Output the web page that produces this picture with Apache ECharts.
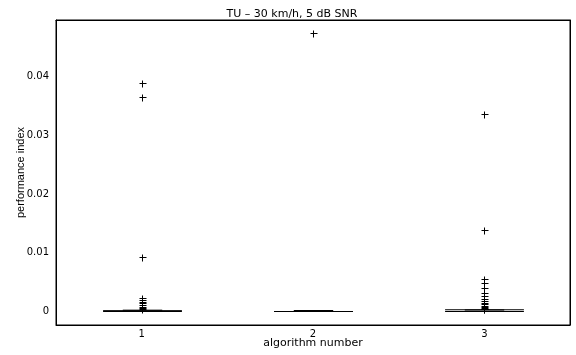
<!DOCTYPE html>
<html>
<head>
<meta charset="utf-8">
<script src="https://cdn.jsdelivr.net/npm/echarts@6/dist/echarts.min.js"></script>
<style>
  html, body { margin: 0; padding: 0; background: #fff; }
  #chart { width: 576px; height: 355px; }
</style>
</head>
<body>
<div id="chart"></div>
<script>
// ─── 資料 ────────────────────────────────────────────────
const categories = ['1', '2', '3']
const yTicks     = [0, 0.01, 0.02, 0.03, 0.04]

// 每組箱形統計：[下鬚, Q1, 中位數, Q3, 上鬚]
const boxAlg1 = [0, 0, 0.00002, 0.00006, 0.00015]
const boxAlg2 = [0, 0, 0, 0, 0]
const boxAlg3 = [0, 0, 0.00003, 0.0001, 0.0003]

// 離群值
const outAlg1 = [0.0389, 0.0365, 0.0093, 0.0023, 0.0020, 0.0017, 0.0014, 0.0011, 0.0008, 0.0006, 0.0004]
const outAlg2 = [0.0474]
const outAlg3 = [0.0337, 0.0139, 0.0056, 0.0049, 0.0040, 0.0031, 0.0026, 0.0022, 0.0018,
                 0.0015, 0.0012, 0.0010, 0.0008, 0.0006, 0.0005, 0.0004]

const boxes    = [boxAlg1, boxAlg2, boxAlg3]
const outliers = [outAlg1, outAlg2, outAlg3]

const boxData = boxes.map((b, i) => [i, ...b])
const outData = []
outliers.forEach((arr, i) => arr.forEach(v => outData.push([i, v])))

// 原圖水平方向文字較寬，用 DejaVu Sans 模擬
const wideFont   = 'DejaVu Sans, Verdana, sans-serif'
const narrowFont = 'Liberation Sans, Arial, Helvetica, sans-serif'
const lineStyle  = { stroke: '#000', lineWidth: 1 }

// 箱形圖（MATLAB 樣式）
const renderBox = (params, api) => {
  const i     = api.value(0)
  const band  = api.size([1, 0])[0]
  const pLo   = api.coord([i, api.value(1)])
  const pQ1   = api.coord([i, api.value(2)])
  const pMed  = api.coord([i, api.value(3)])
  const pQ3   = api.coord([i, api.value(4)])
  const pHi   = api.coord([i, api.value(5)])
  const cx    = Math.round(pLo[0]) + 0.5
  const capW  = band * 0.23
  const boxW  = band * 0.115
  const line  = (x1, y1, x2, y2) => ({
    type: 'line', shape: { x1, y1, x2, y2 }, style: lineStyle,
  })
  return {
    type: 'group',
    children: [
      line(cx - capW, pLo[1], cx + capW, pLo[1]),
      line(cx - capW, pHi[1], cx + capW, pHi[1]),
      line(cx, pLo[1], cx, pQ1[1]),
      line(cx, pQ3[1], cx, pHi[1]),
      line(cx - boxW, pQ1[1], cx + boxW, pQ1[1]),
      line(cx - boxW, pQ3[1] - 1, cx + boxW, pQ3[1] - 1),
      line(cx - boxW, pMed[1], cx + boxW, pMed[1]),
    ],
  }
}

// 離群值 '+' 記號
const renderPlus = (params, api) => {
  const p = api.coord([api.value(0), api.value(1)])
  const x = Math.round(p[0]) + 0.5
  const y = Math.round(p[1]) + 0.5
  const s = 3
  return {
    type: 'group',
    children: [
      { type: 'line', shape: { x1: x - s, y1: y, x2: x + s + 1, y2: y }, style: lineStyle },
      { type: 'line', shape: { x1: x, y1: y - s, x2: x, y2: y + s + 1 }, style: lineStyle },
    ],
  }
}

const axisCommon = {
  axisLine:  { show: true, onZero: false, lineStyle: { color: '#000', width: 1 } },
  splitLine: { show: false },
}

const chart = echarts.init(document.getElementById('chart'))
chart.setOption({
  animation: false,
  backgroundColor: '#fff',
  title: {
    text: 'TU \u2013 30 km/h, 5 dB SNR',
    left: 287,
    top: 4,
    textAlign: 'center',
    textStyle: { fontFamily: wideFont, fontSize: 11, fontWeight: 'normal', color: '#000' },
  },
  grid: {
    left: 56, right: 6, top: 20, bottom: 30,
    outerBoundsMode: 'none',
    show: true, borderColor: '#000', borderWidth: 1,
  },
  xAxis: [
    {
      ...axisCommon,
      type: 'category',
      data: categories,
      name: 'algorithm number',
      nameLocation: 'middle',
      nameGap: 13,
      nameMoveOverlap: false,
      nameTextStyle: { fontFamily: wideFont, fontSize: 11, color: '#000' },
      axisTick:  { inside: true, alignWithLabel: true, length: 4, lineStyle: { color: '#000' } },
      axisLabel: { margin: 4, fontFamily: wideFont, fontSize: 10, color: '#000' },
    },
    {
      ...axisCommon,
      type: 'category',
      data: categories,
      position: 'top',
      axisTick:  { inside: true, alignWithLabel: true, length: 4, lineStyle: { color: '#000' } },
      axisLabel: { show: false },
    },
  ],
  yAxis: [
    {
      ...axisCommon,
      type: 'value',
      min: -0.0023,
      max: 0.0497,
      name: 'performance index',
      nameLocation: 'middle',
      nameGap: 30,
      nameMoveOverlap: false,
      nameTextStyle: { fontFamily: narrowFont, fontSize: 11, color: '#000' },
      axisTick:  { inside: true, length: 4, customValues: yTicks, lineStyle: { color: '#000' } },
      axisLabel: { margin: 7, fontFamily: wideFont, fontSize: 10, color: '#000', customValues: yTicks },
    },
    {
      ...axisCommon,
      type: 'value',
      min: -0.0023,
      max: 0.0497,
      position: 'right',
      axisTick:  { inside: true, length: 4, customValues: yTicks, lineStyle: { color: '#000' } },
      axisLabel: { show: false },
    },
  ],
  series: [
    { type: 'custom', renderItem: renderBox, data: boxData, encode: { x: 0, y: [1, 2, 3, 4, 5] }, z: 2 },
    { type: 'custom', renderItem: renderPlus, data: outData, encode: { x: 0, y: 1 }, z: 3 },
  ],
})
</script>
</body>
</html>
